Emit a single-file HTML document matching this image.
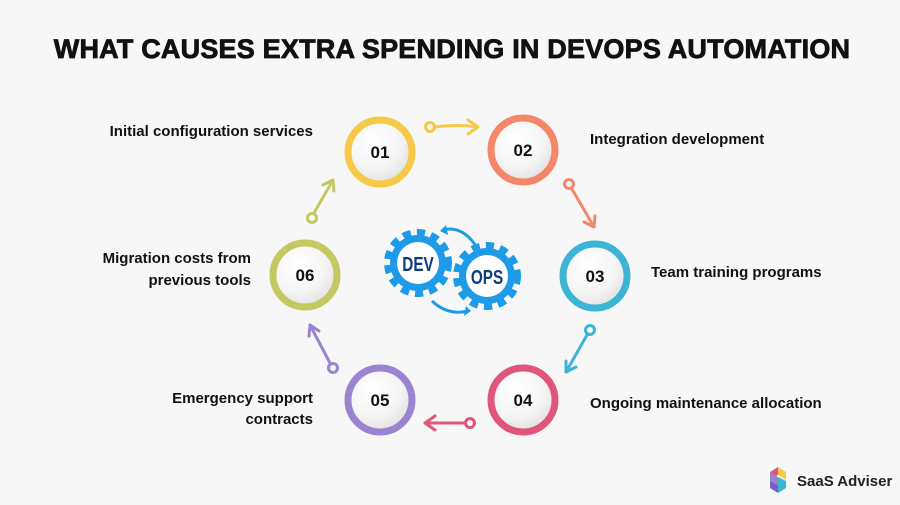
<!DOCTYPE html>
<html><head><style>
body{margin:0;width:900px;height:500px;background:#f7f7f7;font-family:"Liberation Sans",sans-serif;overflow:hidden}
</style></head><body>
<svg width="900" height="500" xmlns="http://www.w3.org/2000/svg" font-family="Liberation Sans, sans-serif">
<defs>
<radialGradient id="g" cx="40%" cy="35%" r="70%"><stop offset="0" stop-color="#fff"/><stop offset="0.6" stop-color="#f5f5f5"/><stop offset="1" stop-color="#dedede"/></radialGradient>
</defs>
<text x="452" y="58" text-anchor="middle" font-size="27" font-weight="900" fill="#111" stroke="#111" stroke-width="0.8" letter-spacing="0.2">WHAT CAUSES EXTRA SPENDING IN DEVOPS AUTOMATION</text>
<g font-weight="bold" font-size="15" fill="#111">
<text x="313" y="136" text-anchor="end">Initial configuration services</text>
<text x="590" y="144">Integration development</text>
<text x="651" y="277">Team training programs</text>
<text x="590" y="408">Ongoing maintenance allocation</text>
<text x="313" y="403" text-anchor="end">Emergency support</text>
<text x="313" y="424" text-anchor="end">contracts</text>
<text x="251" y="263" text-anchor="end">Migration costs from</text>
<text x="251" y="285" text-anchor="end">previous tools</text>
</g>
<g stroke-width="7">
<circle cx="380" cy="152" r="32" fill="url(#g)" stroke="#f7c948"/>
<circle cx="523" cy="150" r="32" fill="url(#g)" stroke="#f4876a"/>
<circle cx="595" cy="276" r="32" fill="url(#g)" stroke="#3db4d6"/>
<circle cx="523" cy="400" r="32" fill="url(#g)" stroke="#e0557a"/>
<circle cx="380" cy="400" r="32" fill="url(#g)" stroke="#9b83cf"/>
<circle cx="305" cy="275" r="32" fill="url(#g)" stroke="#c5c860"/>
</g>
<g font-weight="bold" font-size="17" fill="#111" text-anchor="middle">
<text x="380" y="158">01</text><text x="523" y="156">02</text><text x="595" y="282">03</text>
<text x="523" y="406">04</text><text x="380" y="406">05</text><text x="305" y="281">06</text>
</g>
<g fill="none" stroke-width="3" stroke-linecap="round" stroke-linejoin="round">
<g stroke="#f7c948"><circle cx="430" cy="127" r="4.5"/><path d="M435 127 Q456 124 478 127 M468 120 L478 127 L468 134"/></g>
<g stroke="#f4876a"><circle cx="569" cy="184" r="4.5"/><path d="M572 189 L594 227 M584 222 L594 227 L595 216"/></g>
<g stroke="#3db4d6"><circle cx="590" cy="330" r="4.5"/><path d="M587 335 L566 372 M566 361 L566 372 L576 367"/></g>
<g stroke="#e0557a"><circle cx="470" cy="423" r="4.5"/><path d="M465 423 L425 423 M435 416 L425 423 L435 430"/></g>
<g stroke="#9b83cf"><circle cx="333" cy="368" r="4.5"/><path d="M330 363 L310 325 M309 336 L310 325 L319 331"/></g>
<g stroke="#c5c860"><circle cx="312" cy="218" r="4.5"/><path d="M314 213 L333 180 M323 185 L333 180 L334 191"/></g>
</g>
<g fill="none" stroke="#1e9be8" stroke-width="3">
<path d="M476 246 Q462 225 442 230"/><path d="M432 301 Q448 316 468 311"/>
</g>
<path d="M446 225 L440 231 L448 235 Z" fill="#1e9be8"/><path d="M466 306 L471 311 L464 316 Z" fill="#1e9be8"/>
<g fill="none" stroke="#1e9be8" stroke-width="8" stroke-dasharray="8 6">
<circle cx="418" cy="263" r="30"/><circle cx="487" cy="276" r="30"/>
</g>
<circle cx="418" cy="263" r="28" fill="#1e9be8"/><circle cx="487" cy="276" r="28" fill="#1e9be8"/>
<circle cx="418" cy="263" r="21" fill="#fff"/><circle cx="487" cy="276" r="21" fill="#fff"/>
<g font-weight="bold" fill="#0d3d80" text-anchor="middle" font-size="18">
<text x="418" y="270" transform="translate(418,263) scale(0.85,1.15) translate(-418,-263)">DEV</text>
<text x="487" y="283" transform="translate(487,276) scale(0.85,1.15) translate(-487,-276)">OPS</text>
</g>
<g transform="translate(770,467)">
<path d="M8 0 L16 5 L16 13 L8 8 Z" fill="#f7c948"/><path d="M0 5 L8 0 L8 8 L4 10 Z" fill="#e0557a"/>
<path d="M0 5 L0 14 L8 18 L8 10 Z" fill="#9b83cf"/><path d="M8 10 L16 14 L16 21 L8 26 Z" fill="#3db4d6"/>
<path d="M0 14 L0 21 L8 26 L8 18 Z" fill="#7b5cc8"/>
</g>
<text x="797" y="486" font-size="15" font-weight="bold" fill="#222">SaaS Adviser</text>
</svg>
</body></html>
